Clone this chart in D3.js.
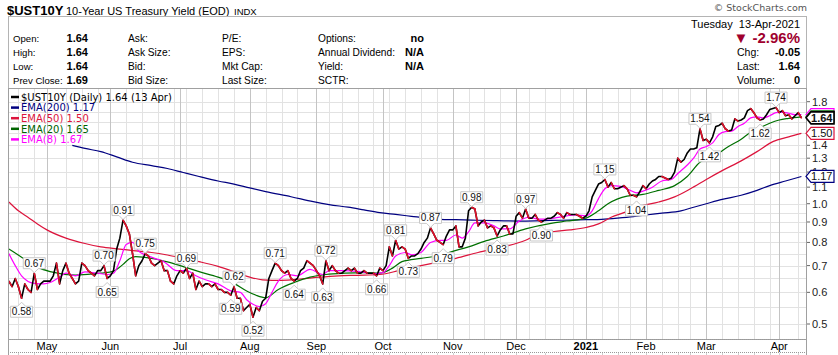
<!DOCTYPE html>
<html><head><meta charset="utf-8">
<script src="https://cdn.jsdelivr.net/npm/d3@7"></script>
<style>body{margin:0;background:#fff;} svg{display:block;}</style>
</head><body><svg id="c" width="838" height="355"></svg>
<script>
// ---------- data ----------
const startDate = "2020-04-15", endDate = "2021-04-13";
const holidays = ["2020-05-25","2020-07-03","2020-09-07","2020-11-26","2020-12-25","2021-01-01","2021-01-18","2021-02-15","2021-04-02"];
const closes = [
 0.64,0.62,0.65,0.62,0.58,0.63,0.61,0.60,0.67,0.61,0.63,0.64,
 0.64,0.64,0.66,0.71,0.63,0.68,0.71,0.67,0.65,0.63,0.64,0.71,0.70,0.68,0.67,0.66,0.68,0.68,0.70,0.65,
 0.66,0.68,0.77,0.82,0.91,0.88,0.84,0.75,0.66,0.70,0.72,0.75,0.74,0.71,0.70,0.71,0.72,0.68,0.68,0.64,0.63,0.66,
 0.68,0.67,0.69,0.65,0.67,0.61,0.64,0.62,0.63,0.63,0.62,0.63,0.61,0.61,0.60,0.60,0.59,0.62,0.58,0.58,0.54,0.55,
 0.56,0.52,0.55,0.54,0.57,0.58,0.65,0.68,0.71,0.70,0.68,0.67,0.68,0.65,0.64,0.65,0.68,0.69,0.72,0.71,0.70,
 0.68,0.66,0.63,0.72,0.68,0.70,0.68,0.67,0.67,0.68,0.69,0.68,0.69,0.67,0.67,0.68,0.67,0.67,0.67,0.66,0.69,
 0.68,0.70,0.78,0.74,0.81,0.77,0.78,0.77,0.73,0.74,0.74,0.75,0.77,0.80,0.82,0.87,0.84,0.81,0.80,0.79,0.83,0.86,
 0.86,0.88,0.78,0.78,0.82,0.96,0.98,0.97,0.88,0.90,0.91,0.87,0.88,0.87,0.83,0.86,0.88,0.88,0.84,0.84,
 0.93,0.95,0.92,0.97,0.92,0.92,0.94,0.91,0.90,0.91,0.92,0.92,0.93,0.95,0.94,0.92,0.95,0.94,0.94,0.94,0.93,0.92,
 0.93,0.96,1.04,1.08,1.12,1.13,1.15,1.10,1.13,1.09,1.09,1.10,1.11,1.09,1.05,1.05,1.04,1.07,1.11,
 1.09,1.12,1.14,1.15,1.17,1.17,1.16,1.15,1.16,1.20,1.30,1.27,1.29,1.34,1.37,1.37,1.38,1.54,1.44,
 1.45,1.42,1.47,1.56,1.57,1.59,1.54,1.52,1.53,1.63,1.61,1.62,1.64,1.71,1.73,1.69,1.64,1.62,1.63,1.67,1.72,1.73,1.74,
 1.69,1.71,1.66,1.67,1.63,1.66,1.69,1.64
];
// moving averages: [day index, value]
const ema8 = [[0,0.75],[2,0.70],[4,0.66],[8,0.632],[11,0.63],[13,0.635],[16,0.655],[18,0.67],[21,0.66],[24,0.675],[28,0.67],[31,0.665],[33,0.67],[35,0.72],[37,0.79],[39,0.80],[41,0.76],[43,0.745],[46,0.73],[49,0.715],[53,0.68],[56,0.68],[59,0.66],[62,0.645],[66,0.63],[70,0.605],[73,0.60],[75,0.575],[77,0.56],[79,0.553],[81,0.562],[83,0.60],[85,0.64],[88,0.665],[91,0.66],[95,0.685],[99,0.665],[101,0.68],[105,0.68],[110,0.677],[115,0.668],[118,0.672],[120,0.70],[122,0.74],[125,0.755],[127,0.745],[130,0.755],[133,0.80],[136,0.81],[138,0.81],[141,0.835],[143,0.82],[145,0.85],[147,0.895],[150,0.895],[153,0.88],[155,0.865],[158,0.865],[161,0.905],[164,0.925],[167,0.915],[171,0.918],[175,0.93],[179,0.937],[182,0.932],[184,0.96],[186,1.03],[188,1.09],[190,1.11],[193,1.105],[196,1.08],[198,1.065],[200,1.075],[203,1.10],[206,1.14],[209,1.15],[211,1.19],[214,1.25],[216,1.30],[218,1.37],[220,1.39],[222,1.42],[224,1.49],[226,1.515],[228,1.52],[230,1.56],[232,1.59],[234,1.64],[236,1.65],[238,1.64],[240,1.66],[242,1.69],[244,1.695],[246,1.684],[248,1.67],[250,1.67]];
const ema20 = [[0,0.77],[4,0.735],[8,0.70],[13,0.676],[21,0.663],[29,0.67],[33,0.678],[36,0.705],[38,0.728],[40,0.737],[45,0.73],[50,0.715],[54,0.70],[60,0.676],[66,0.655],[71,0.632],[75,0.605],[78,0.59],[81,0.582],[85,0.61],[90,0.635],[95,0.655],[100,0.665],[106,0.67],[112,0.672],[117,0.67],[121,0.69],[124,0.716],[130,0.73],[135,0.74],[140,0.76],[145,0.78],[150,0.805],[156,0.83],[163,0.865],[171,0.893],[176,0.905],[182,0.92],[186,0.96],[189,1.0],[195,1.045],[200,1.055],[205,1.08],[210,1.11],[214,1.17],[218,1.27],[222,1.31],[227,1.39],[231,1.45],[234,1.51],[237,1.55],[240,1.59],[243,1.62],[246,1.635],[250,1.65]];
const ema50 = [[0,1.01],[3,0.96],[6,0.925],[9,0.89],[12,0.86],[18,0.82],[24,0.795],[29,0.78],[35,0.77],[39,0.763],[45,0.755],[50,0.744],[55,0.73],[60,0.716],[66,0.697],[71,0.676],[76,0.655],[80,0.645],[86,0.643],[92,0.648],[98,0.655],[104,0.66],[110,0.662],[117,0.665],[123,0.68],[130,0.70],[136,0.716],[141,0.73],[148,0.755],[156,0.78],[163,0.81],[167,0.84],[172,0.852],[177,0.86],[182,0.872],[186,0.89],[190,0.925],[194,0.95],[199,0.985],[205,1.01],[210,1.04],[215,1.09],[220,1.15],[225,1.21],[231,1.28],[236,1.35],[241,1.43],[246,1.47],[250,1.50]];
const ema200 = [[20,1.40],[24,1.375],[29,1.35],[34,1.31],[39,1.27],[45,1.245],[50,1.225],[55,1.197],[60,1.17],[66,1.14],[71,1.12],[76,1.095],[81,1.072],[89,1.041],[96,1.012],[101,0.995],[107,0.98],[112,0.965],[117,0.95],[122,0.94],[127,0.93],[132,0.92],[136,0.914],[141,0.912],[146,0.91],[153,0.907],[161,0.905],[166,0.906],[171,0.908],[177,0.91],[182,0.912],[187,0.914],[192,0.92],[197,0.928],[201,0.937],[206,0.947],[212,0.96],[216,0.98],[220,1.0],[225,1.025],[231,1.05],[236,1.08],[240,1.11],[245,1.14],[250,1.17]];
const peakIdx = [8,30,36,43,56,71,84,100,122,133,146,163,188,218,242];
const troughIdx = [4,31,70,77,90,99,116,126,137,154,168,198,221,237];
const yTicks = [0.5,0.6,0.7,0.8,0.9,1.0,1.1,1.2,1.3,1.4,1.8];
const yGrid = [0.5,0.55,0.6,0.65,0.7,0.75,0.8,0.85,0.9,0.95,1.0,1.1,1.2,1.3,1.4,1.5,1.6,1.7,1.8];
const monthLabels = ["Jan","Feb","Mar","Apr","May","Jun","Jul","Aug","Sep","Oct","Nov","Dec"];
const legendItems = [["$UST10Y (Daily) 1.64 (13 Apr)","#000"],["EMA(200) 1.17","#000080"],["EMA(50) 1.50","#dc143c"],["EMA(20) 1.65","#006400"],["EMA(8) 1.67","#ff00ff"]];
// [value, colour, bold, label shown]
const tags = [[1.67,"#ff00ff",false,false],[1.65,"#006400",false,false],[1.50,"#dc143c",false,true],[1.17,"#000080",false,true],[1.64,"#000",true,true]];
const headerRows = [["Open:","1.64","Ask:","P/E:","Options:","no"],["High:","1.64","Ask Size:","EPS:","Annual Dividend:","N/A"],["Low:","1.64","Bid:","Mkt Cap:","Yield:","N/A"],["Prev Close:","1.69","Bid Size:","Last Size:","SCTR:",""]];
const quoteRows = [["Chg:","-0.05"],["Last:","1.64"],["Volume:","0"]];

// ---------- dates ----------
const fmt = d3.timeFormat("%Y-%m-%d");
const dates = d3.timeDay.range(new Date(startDate+"T00:00"), d3.timeDay.offset(new Date(endDate+"T00:00"),1))
  .filter(d => d.getDay()!==0 && d.getDay()!==6 && !holidays.includes(fmt(d)));
const n = Math.min(dates.length, closes.length);

// ---------- layout ----------
const svg = d3.select("#c");
const F = "'Liberation Sans', Arial, sans-serif";
const L = 8, R = 807, PT = 88, PB = 339;
const x = d3.scaleLinear().domain([0, n-1]).range([8.9, 801.4]);
const y = d3.scaleLog().domain([0.5, 1.8]).range([324, 101.7]);

// title
svg.append("text").attr("x",7).attr("y",15).attr("font-family",F).attr("font-size",13).attr("font-weight","bold").text("$UST10Y");
svg.append("text").attr("x",66).attr("y",15).attr("font-family",F).attr("font-size",11).text("10-Year US Treasury Yield (EOD)");
svg.append("text").attr("x",234).attr("y",15).attr("font-family",F).attr("font-size",9.5).text("INDX");
svg.append("text").attr("x",807).attr("y",11).attr("text-anchor","end").attr("font-family","'DejaVu Sans',sans-serif").attr("font-size",9.5).attr("fill","#555").text("© StockCharts.com");

// header box
svg.append("rect").attr("x",L+0.5).attr("y",16.5).attr("width",R-L-1).attr("height",PT-16).attr("fill","#fff").attr("stroke","#b4b4b4");
const rowY = [42,56,70,84];
headerRows.forEach((r,k)=>{
  const t = (xx,s,opt={})=>{ const e=svg.append("text").attr("x",xx).attr("y",rowY[k]).attr("font-family",F).attr("font-size",opt.b?11:opt.s||10.2).text(s);
    if(opt.b) e.attr("font-weight","bold"); if(opt.e) e.attr("text-anchor","end"); return e; };
  t(13,r[0],{s:9.6}); t(88,r[1],{b:1,e:1}); t(128,r[2]); t(222,r[3]); t(318,r[4]); t(424,r[5],{b:1,e:1});
});
svg.append("text").attr("x",800).attr("y",28).attr("text-anchor","end").attr("font-family",F).attr("font-size",11).attr("xml:space","preserve").text("Tuesday  13-Apr-2021");
svg.append("text").attr("x",800).attr("y",43).attr("text-anchor","end").attr("font-family",F).attr("font-size",15).attr("font-weight","bold").attr("fill","#a0002e").text("▼ -2.96%");
quoteRows.forEach((r,k)=>{
  svg.append("text").attr("x",737).attr("y",rowY[k+1]).attr("font-family",F).attr("font-size",10.5).text(r[0]);
  svg.append("text").attr("x",800).attr("y",rowY[k+1]).attr("text-anchor","end").attr("font-family",F).attr("font-size",11).attr("font-weight","bold").text(r[1]);
});

// price panel
svg.append("rect").attr("x",L+0.5).attr("y",PT+0.5).attr("width",R-L-1).attr("height",PB-PT).attr("fill","#fff").attr("stroke","#a0a0a0");
const grid = svg.append("g");
const monthStarts = [], weekStarts = [];
for (let i=1;i<n;i++){
  if (dates[i].getMonth()!==dates[i-1].getMonth()) monthStarts.push(i);
  else if (dates[i].getDay() < dates[i-1].getDay()) weekStarts.push(i);
}
const wk = weekStarts.filter(i => monthStarts.every(m => Math.abs(x(m)-x(i))>6));
grid.selectAll("line.w").data(wk).join("line").attr("x1",d=>Math.round(x(d))+0.5).attr("x2",d=>Math.round(x(d))+0.5)
  .attr("y1",PT+1).attr("y2",PB).attr("stroke","#e2e2e2");
grid.selectAll("line.h").data(yGrid).join("line").attr("x1",L+1).attr("x2",R-1)
  .attr("y1",d=>Math.round(y(d))+0.5).attr("y2",d=>Math.round(y(d))+0.5).attr("stroke","#e2e2e2");
grid.selectAll("line.m").data(monthStarts).join("line").attr("x1",d=>Math.round(x(d))+0.5).attr("x2",d=>Math.round(x(d))+0.5)
  .attr("y1",PT+1).attr("y2",PB).attr("stroke","#c4c4c4");

// y axis
const ax = svg.append("g");
ax.selectAll("line").data(yTicks).join("line").attr("x1",R).attr("x2",R+3).attr("y1",d=>y(d)).attr("y2",d=>y(d)).attr("stroke","#666");
ax.selectAll("text").data(yTicks).join("text").attr("x",R+5).attr("y",d=>y(d)+4).attr("font-family",F).attr("font-size",11).attr("fill","#222").text(d=>d.toFixed(1));

// lines
svg.append("clipPath").attr("id","pc").append("rect").attr("x",L+1).attr("y",PT+1).attr("width",R-L-2).attr("height",PB-PT-1);
const plot = svg.append("g").attr("clip-path","url(#pc)");
const ln = d3.line().x(d=>x(d[0])).y(d=>y(d[1])).curve(d3.curveMonotoneX);
[[ema200,"#000080"],[ema50,"#dc143c"],[ema20,"#007000"],[ema8,"#ff00ff"]].forEach(([s,c])=>{
  plot.append("path").attr("d",ln(s)).attr("fill","none").attr("stroke",c).attr("stroke-width",1.2);
});
const pts = closes.slice(0,n).map((v,i)=>[i,v]);
plot.append("path").attr("d",d3.line().x(d=>x(d[0])).y(d=>y(d[1]))(pts)).attr("fill","none").attr("stroke","#000").attr("stroke-width",1.6).attr("stroke-linejoin","round");
const downs = d3.range(1,n).filter(i=>closes[i]<closes[i-1]);
plot.selectAll("line.dn").data(downs).join("line")
  .attr("x1",i=>x(i-1)).attr("y1",i=>y(closes[i-1])).attr("x2",i=>x(i)).attr("y2",i=>y(closes[i]))
  .attr("stroke","#e0102a").attr("stroke-width",1.6).attr("stroke-linecap","round");

// annotations
const ann = svg.append("g");
function bubble(i, up){
  const px = x(i), py = y(closes[i]);
  const txt = closes[i].toFixed(2);
  const w = 22, h = 11;
  const cy = up ? py-10 : py+13.5;
  const x0 = px-w/2, x1 = px+w/2, y0 = cy-h/2, y1 = cy+h/2;
  let p;
  if (up) p = `M${x0},${y0}H${x1}V${y1}H${px+4}L${px},${y1+4}L${px-4},${y1}H${x0}Z`;
  else p = `M${x0},${y0}H${px-4}L${px},${y0-4}L${px+4},${y0}H${x1}V${y1}H${x0}Z`;
  ann.append("path").attr("d",p).attr("fill","#fff").attr("stroke","#c8c8c8");
  ann.append("text").attr("x",px).attr("y",cy+3.6).attr("text-anchor","middle").attr("font-family",F).attr("font-size",10).attr("fill","#111").text(txt);
}
peakIdx.forEach(i=>bubble(i,true));
troughIdx.forEach(i=>bubble(i,false));

// legend
const lg = svg.append("g");
legendItems.forEach(([t,c],k)=>{
  const yy = 97 + k*10.6;
  lg.append("line").attr("x1",11).attr("x2",19).attr("y1",yy).attr("y2",yy).attr("stroke",c).attr("stroke-width",2.5);
  lg.append("text").attr("x",21).attr("y",yy+3.8).attr("font-family","'DejaVu Sans',Verdana,sans-serif").attr("font-size",10).attr("fill",c).text(t);
});

// value tags on right axis
tags.forEach(([v,c,b,show])=>{
  const cy = y(v), x0 = 806, x1 = 834;
  svg.append("path").attr("d",`M${x0},${cy}L${x0+5},${cy-6}H${x1}V${cy+6}H${x0+5}Z`).attr("fill","#fff").attr("stroke",c).attr("stroke-width",b?1.6:1.2);
  if (show) svg.append("text").attr("x",x1-1.5).attr("y",cy+4).attr("text-anchor","end").attr("font-family",F).attr("font-size",11)
    .attr("font-weight",b?"bold":"normal").attr("fill","#111").text(v.toFixed(2));
});

// x axis band
svg.append("line").attr("x1",L).attr("x2",R).attr("y1",PB+0.5).attr("y2",PB+0.5).attr("stroke","#999").attr("stroke-dasharray","1,1");
svg.append("line").attr("x1",L).attr("x2",R).attr("y1",352.5).attr("y2",352.5).attr("stroke","#999").attr("stroke-dasharray","1,1");
svg.append("line").attr("x1",L+0.5).attr("x2",L+0.5).attr("y1",PB).attr("y2",355).attr("stroke","#a0a0a0");
svg.append("line").attr("x1",R-0.5).attr("x2",R-0.5).attr("y1",PB).attr("y2",355).attr("stroke","#a0a0a0");
svg.selectAll("text.mx").data(monthStarts).join("text").attr("x",d=>x(d)).attr("y",349.5).attr("text-anchor","middle")
  .attr("font-family",F).attr("font-size",11).attr("font-weight",d=>dates[d].getMonth()===0?"bold":"normal")
  .text(d=>dates[d].getMonth()===0 ? String(dates[d].getFullYear()) : monthLabels[dates[d].getMonth()]);
svg.selectAll("line.bt").data(monthStarts.concat(wk)).join("line").attr("x1",d=>Math.round(x(d))+0.5).attr("x2",d=>Math.round(x(d))+0.5)
  .attr("y1",353).attr("y2",355).attr("stroke","#d0d0d0");
</script></body></html>
